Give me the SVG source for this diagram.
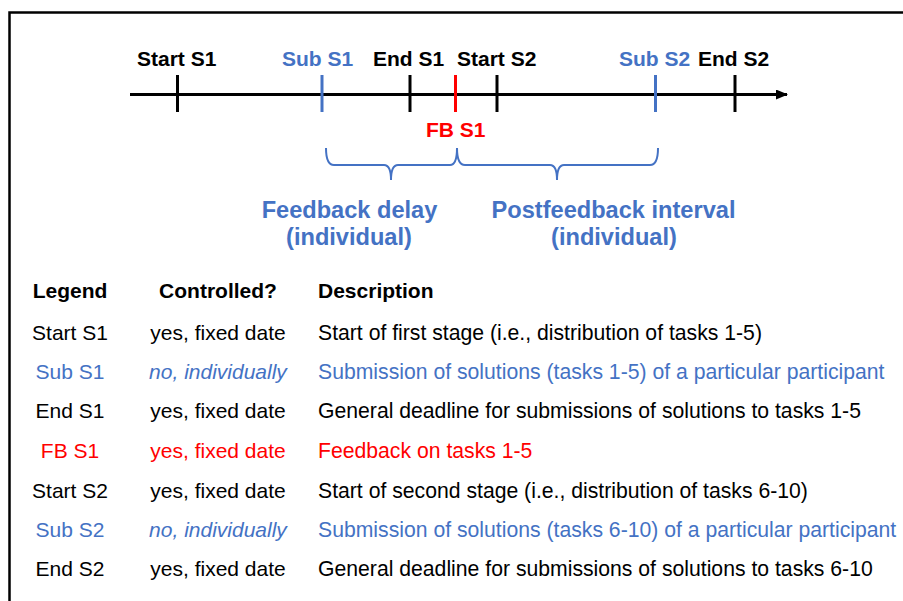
<svg xmlns="http://www.w3.org/2000/svg" width="903" height="601" viewBox="0 0 903 601">
<style>
.t{font-family:"Liberation Sans",Arial,sans-serif}
.lb{font-size:21px;font-weight:bold}
.br{font-size:23.6px;font-weight:bold;fill:#4472C4;text-anchor:middle}
.hd{font-size:21px;font-weight:bold;fill:#000}
.rw{font-size:21px}
.ds{font-size:21.2px}
.k{fill:#000}
.b{fill:#4472C4}
.r{fill:#FF0000}
.c{text-anchor:middle}
.tk{stroke-width:3;fill:none}
.brace{stroke:#4472C4;stroke-width:2;fill:none}
</style>
<defs>
<marker id="ah" markerWidth="12" markerHeight="10" refX="11" refY="5" orient="auto" markerUnits="userSpaceOnUse">
<path d="M0,0 L12,5 L0,10 Z" fill="#000"/>
</marker>
</defs>
<rect width="903" height="601" fill="#fff"/>
<rect x="9.5" y="12.5" width="910" height="620" fill="none" stroke="#000" stroke-width="2.5"/>

<g id="connectors">
<line x1="130" y1="94.5" x2="787" y2="94.5" stroke="#000" stroke-width="3" marker-end="url(#ah)"/>
<path class="brace" d="M326,148 Q326,165 334,165 H384 Q391,165 391,180 Q391,165 398,165 H450 Q457,165 457,148"/>
<path class="brace" d="M457,148 Q457,165 465,165 H550 Q557,165 557,180 Q557,165 564,165 H650 Q658,165 658,148"/>
</g>

<g id="tick-start-s1"><line class="tk" x1="177.5" y1="75" x2="177.5" y2="112" stroke="#000"/><text class="t lb k" x="137" y="66">Start S1</text></g>
<g id="tick-sub-s1"><line class="tk" x1="322" y1="75" x2="322" y2="112" stroke="#4472C4"/><text class="t lb b" x="282" y="66">Sub S1</text></g>
<g id="tick-end-s1"><line class="tk" x1="410" y1="75" x2="410" y2="112" stroke="#000"/><text class="t lb k" x="373" y="66">End S1</text></g>
<g id="tick-fb-s1"><line class="tk" x1="455.5" y1="75" x2="455.5" y2="112" stroke="#FF0000"/><text class="t lb r" x="426" y="137">FB S1</text></g>
<g id="tick-start-s2"><line class="tk" x1="497" y1="75" x2="497" y2="112" stroke="#000"/><text class="t lb k" x="457" y="66">Start S2</text></g>
<g id="tick-sub-s2"><line class="tk" x1="655.5" y1="75" x2="655.5" y2="112" stroke="#4472C4"/><text class="t lb b" x="619" y="66">Sub S2</text></g>
<g id="tick-end-s2"><line class="tk" x1="735" y1="75" x2="735" y2="112" stroke="#000"/><text class="t lb k" x="698" y="66">End S2</text></g>

<g id="label-feedback-delay">
<text class="t br" x="349.5" y="218">Feedback delay</text>
<text class="t br" x="349" y="245">(individual)</text>
</g>
<g id="label-postfeedback">
<text class="t br" x="613.5" y="218">Postfeedback interval</text>
<text class="t br" x="614" y="245">(individual)</text>
</g>

<g id="legend-table">
<g id="header">
<text class="t hd c" x="70" y="298">Legend</text>
<text class="t hd c" x="218" y="298">Controlled?</text>
<text class="t hd" x="318" y="298">Description</text>
</g>
<g id="row-start-s1" class="t rw k">
<text class="c" x="70" y="339.5">Start S1</text>
<text class="c" x="218" y="339.5">yes, fixed date</text>
<text class="ds" x="318" y="339.5">Start of first stage (i.e., distribution of tasks 1-5)</text>
</g>
<g id="row-sub-s1" class="t rw b">
<text class="c" x="70" y="378.5">Sub S1</text>
<text class="c" x="218" y="378.5" font-style="italic">no, individually</text>
<text class="ds" x="318" y="378.5">Submission of solutions (tasks 1-5) of a particular participant</text>
</g>
<g id="row-end-s1" class="t rw k">
<text class="c" x="70" y="418">End S1</text>
<text class="c" x="218" y="418">yes, fixed date</text>
<text class="ds" x="318" y="418">General deadline for submissions of solutions to tasks 1-5</text>
</g>
<g id="row-fb-s1" class="t rw r">
<text class="c" x="70" y="457.5">FB S1</text>
<text class="c" x="218" y="457.5">yes, fixed date</text>
<text class="ds" x="318" y="457.5">Feedback on tasks 1-5</text>
</g>
<g id="row-start-s2" class="t rw k">
<text class="c" x="70" y="497.5">Start S2</text>
<text class="c" x="218" y="497.5">yes, fixed date</text>
<text class="ds" x="318" y="497.5">Start of second stage (i.e., distribution of tasks 6-10)</text>
</g>
<g id="row-sub-s2" class="t rw b">
<text class="c" x="70" y="537">Sub S2</text>
<text class="c" x="218" y="537" font-style="italic">no, individually</text>
<text class="ds" x="318" y="537">Submission of solutions (tasks 6-10) of a particular participant</text>
</g>
<g id="row-end-s2" class="t rw k">
<text class="c" x="70" y="576">End S2</text>
<text class="c" x="218" y="576">yes, fixed date</text>
<text class="ds" x="318" y="576">General deadline for submissions of solutions to tasks 6-10</text>
</g>
</g>
</svg>
